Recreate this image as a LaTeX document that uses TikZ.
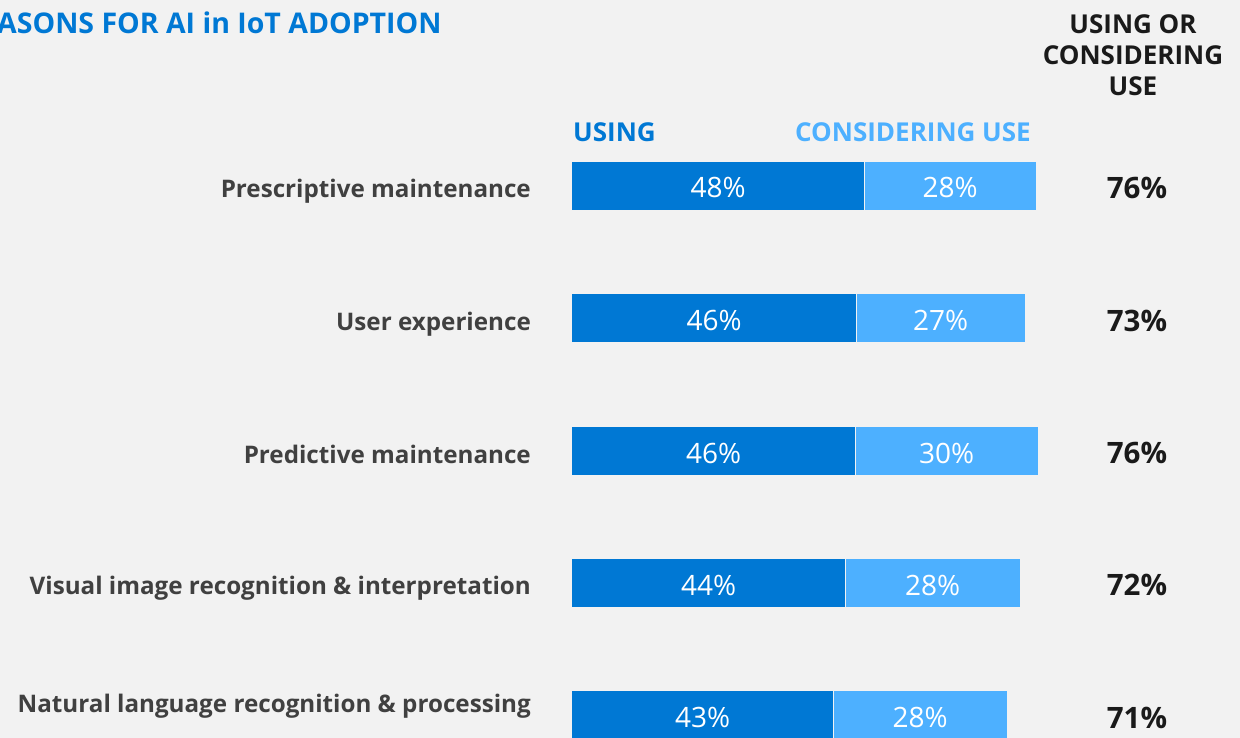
\documentclass[tikz,border=0pt]{standalone}
\usepackage{fontspec}
\setmainfont{Open Sans}
\usetikzlibrary{positioning}
\definecolor{bgGray}{HTML}{F2F2F2}
\definecolor{useBlue}{HTML}{0078D4}
\definecolor{consBlue}{HTML}{4DB0FF}
\definecolor{labelGray}{HTML}{404040}
\definecolor{totalBlack}{HTML}{1A1A1A}

\begin{document}
\begin{tikzpicture}[
    x=1pt, y=-1pt,
    % Styles
    title/.style={% Chart title
        anchor=base west,
        inner sep=0pt,
        text=useBlue,
        font=\fontsize{28.5}{34}\selectfont\bfseries,
    },
    header/.style={% Column headings
        inner sep=0pt,
        font=\fontsize{26}{31}\selectfont\bfseries,
    },
    rowlabel/.style={% Reason on the left
        anchor=base east,
        inner sep=0pt,
        text=labelGray,
        font=\fontsize{24.2}{29}\selectfont\bfseries,
    },
    usebar/.style={% Dark part of a bar
        rectangle,
        anchor=west,
        inner sep=0pt,
        minimum height=48pt,
        text height=24pt,
        text depth=0pt,
        fill=useBlue,
        text=white,
        font=\fontsize{28}{32}\selectfont,
    },
    consbar/.style={% Light part of a bar
        usebar,
        fill=consBlue,
    },
    total/.style={% Sum on the right
        anchor=base,
        inner sep=0pt,
        text=totalBlack,
        font=\fontsize{29.5}{34}\selectfont\bfseries,
    },
    ]
    % Background
    \fill [bgGray] (0,0) rectangle (1240,738);
    \useasboundingbox (0,0) rectangle (1240,738);
    \clip (0,0) rectangle (1240,738);

    % Title and headings
    \node [title] (title) at (-3,34) {ASONS FOR AI in IoT ADOPTION};
    \node [header, align=center, text=totalBlack] (totalhead) at (1133,55)
        {USING OR\\CONSIDERING\\USE};
    \node [header, anchor=west, text=useBlue] (usehead) at (573,132) {USING};
    \node [header, anchor=east, text=consBlue] (conshead) at (1031,132) {CONSIDERING USE};

    % Row labels
    \node [rowlabel] (lbl1) at (531,198) {Prescriptive maintenance};
    \node [rowlabel] (lbl2) at (531,330) {User experience};
    \node [rowlabel] (lbl3) at (531,463) {Predictive maintenance};
    \node [rowlabel] (lbl4) at (531,594) {Visual image recognition \& interpretation};
    \node [rowlabel] (lbl5) at (531,712) {Natural language recognition \& processing};

    % Bars named use# and cons#
    \node [usebar, minimum width=292pt] (use1) at (572,186) {48\%};
    \node [consbar, minimum width=171pt, right=0pt of use1] (cons1) {28\%};
    \node [usebar, minimum width=284pt] (use2) at (572,318) {46\%};
    \node [consbar, minimum width=168pt, right=0pt of use2] (cons2) {27\%};
    \node [usebar, minimum width=283pt] (use3) at (572,451) {46\%};
    \node [consbar, minimum width=182pt, right=0pt of use3] (cons3) {30\%};
    \node [usebar, minimum width=273pt] (use4) at (572,583) {44\%};
    \node [consbar, minimum width=174pt, right=0pt of use4] (cons4) {28\%};
    \node [usebar, minimum width=261pt] (use5) at (572,715) {43\%};
    \node [consbar, minimum width=173pt, right=0pt of use5] (cons5) {28\%};

    % Totals named tot#
    \node [total] (tot1) at (1137,199) {76\%};
    \node [total] (tot2) at (1137,331) {73\%};
    \node [total] (tot3) at (1137,463) {76\%};
    \node [total] (tot4) at (1137,595) {72\%};
    \node [total] (tot5) at (1137,728) {71\%};

\end{tikzpicture}
\end{document}
